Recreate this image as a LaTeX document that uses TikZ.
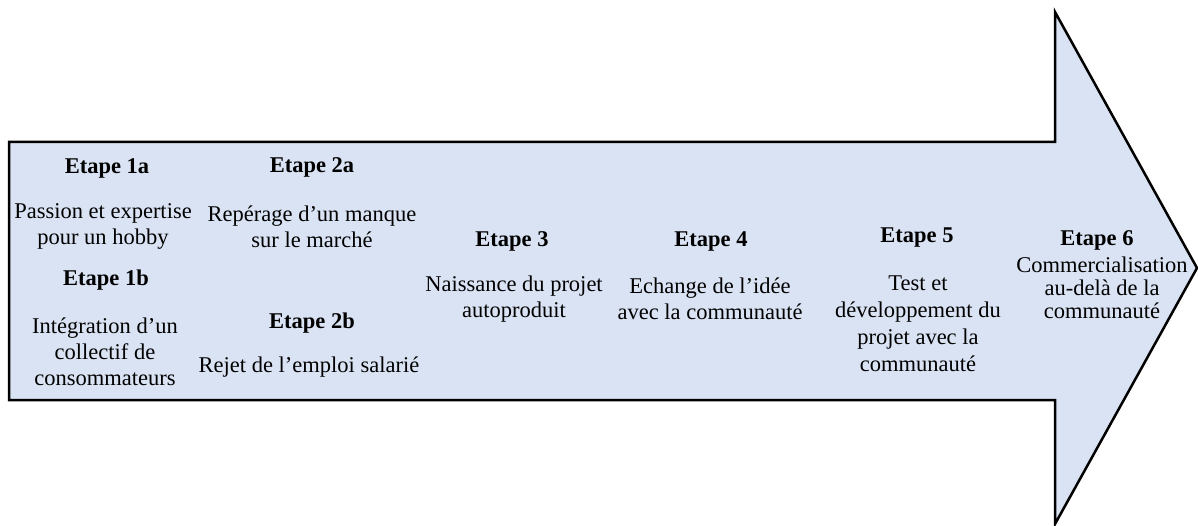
\documentclass[tikz,border=0pt]{standalone}
\usepackage{fontspec}
\setmainfont{Liberation Serif}
\definecolor{arrowfill}{HTML}{DAE3F3}
\tikzset{
  title/.style={font=\fontsize{22.5}{27}\selectfont\bfseries, inner sep=0pt, align=center},
  desc/.style={font=\fontsize{22.5}{26}\selectfont, inner sep=0pt, align=center},
  descwide/.style={font=\fontsize{22.5}{27}\selectfont, inner sep=0pt, align=center},
  desctight/.style={font=\fontsize{22.5}{23}\selectfont, inner sep=0pt, align=center},
  bigarrow/.style={draw=black, line width=2.5pt, fill=arrowfill, line join=miter}
}
\begin{document}
\begin{tikzpicture}[x=1pt,y=-1pt]
\useasboundingbox (0,0) rectangle (1198,526);
\draw[bigarrow] (9,142) -- (1055,142) -- (1055,12) -- (1197,268) -- (1055,524) -- (1055,400) -- (9,400) -- cycle;

\node[title] (e1a) at (107,168) {Etape 1a};
\node[desc] (d1a) at (103,226) {Passion et expertise\\pour un hobby};
\node[title] (e1b) at (106,280) {Etape 1b};
\node[desc] (d1b) at (105,352) {Intégration d’un\\collectif de\\consommateurs};

\node[title] (e2a) at (312,167) {Etape 2a};
\node[desc] (d2a) at (312,227) {Repérage d’un manque\\sur le marché};
\node[title] (e2b) at (312,323) {Etape 2b};
\node[desc] (d2b) at (309,367) {Rejet de l’emploi salarié};

\node[title] (e3) at (512,241) {Etape 3};
\node[desc] (d3) at (514,299) {Naissance du projet\\autoproduit};

\node[title] (e4) at (711,241) {Etape 4};
\node[desc] (d4) at (710,299) {Echange de l’idée\\avec la communauté};

\node[title] (e5) at (917,238) {Etape 5};
\node[descwide] (d5) at (918,324) {Test et\\développement du\\projet avec la\\communauté};

\node[title] (e6) at (1097,240) {Etape 6};
\node[desctight] (d6) at (1102,288) {Commercialisation\\au-delà de la\\communauté};
\end{tikzpicture}
\end{document}
